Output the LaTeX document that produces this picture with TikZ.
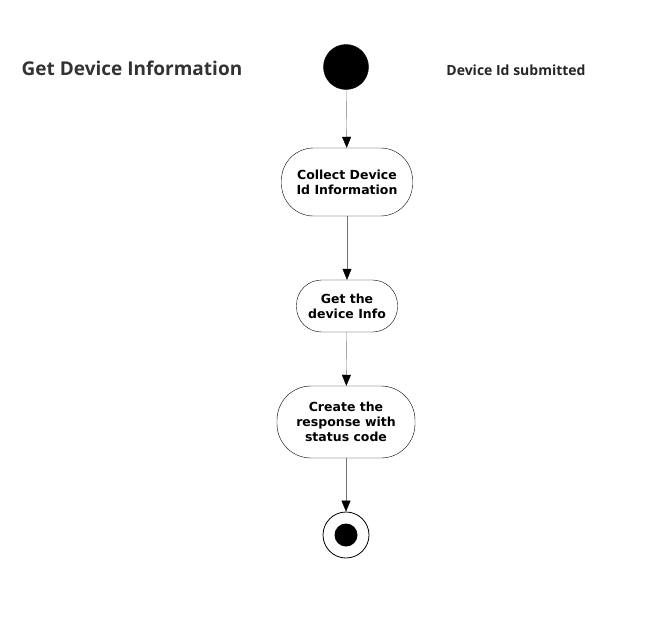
\documentclass[tikz,border=0pt]{standalone}
\usepackage{fontspec}
\setmainfont{DejaVu Sans}
\newfontfamily\headfont{Open Sans}
\usetikzlibrary{arrows.meta}
\tikzset{
	action/.style   = {draw, thin, rectangle, align=center, inner sep=4pt,
		font=\fontsize{12.5}{15}\selectfont\bfseries},
	start/.style    = {draw, circle, fill=black, minimum size=45pt, inner sep=0pt},
	stop/.style     = {draw, thick, circle, minimum size=46pt, inner sep=0pt},
	stopdot/.style  = {circle, fill=black, minimum size=23pt, inner sep=0pt},
	flow/.style     = {draw=black!55, thin, -{Triangle[width=9pt,length=11pt,black]}}
}

\begin{document}
\begin{tikzpicture}[x=1pt, y=-1pt]
	\useasboundingbox (0,0) rectangle (656,624);
	\draw
	% Title and note
	node at (132,68) [font=\headfont\fontsize{19}{21}\selectfont\bfseries, text=black!80] (title) {Get Device Information}
	node at (516,70) [font=\headfont\fontsize{14}{16}\selectfont\bfseries, text=black!85] (note) {Device Id submitted}
	% Activities
	node at (346,67) [start] (init) {}
	node at (347,182) [action, minimum width=131pt, minimum height=68pt, rounded corners=32pt] (collect) {Collect Device\\Id Information}
	node at (347,306) [action, minimum width=101pt, minimum height=52pt, rounded corners=25pt] (getinfo) {Get the\\device Info}
	node at (346,422) [action, minimum width=138pt, minimum height=72pt, rounded corners=34pt] (respond) {Create the\\response with\\status code}
	node at (346,535) [stop] (final) {}
	node at (346,535) [stopdot] (finaldot) {};

	\draw[flow] (init) -- (collect);
	\draw[flow] (collect) -- (getinfo);
	\draw[flow] (getinfo) -- (respond);
	\draw[flow] (respond) -- (final);
\end{tikzpicture}
\end{document}
